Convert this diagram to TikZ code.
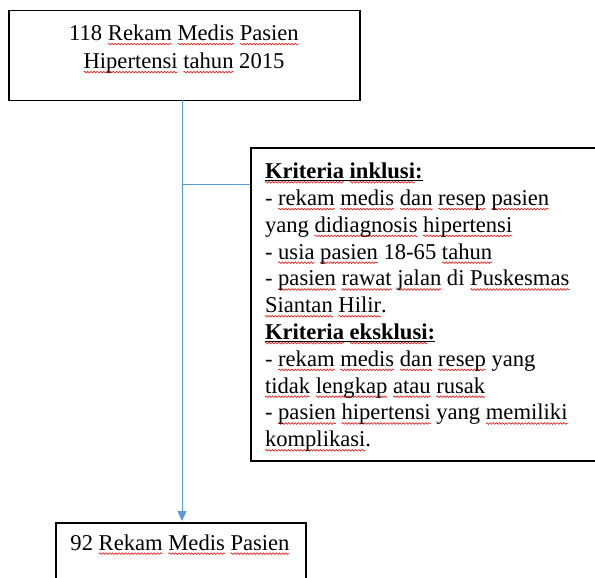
\documentclass[tikz,border=0pt]{standalone}
\usepackage{fontspec}
\setmainfont{Liberation Serif}
\usetikzlibrary{arrows.meta,decorations.pathmorphing}
\definecolor{linkblue}{RGB}{91,155,213}
\definecolor{spellred}{RGB}{225,40,40}
\newsavebox\sqbox
\newlength\sqlen
\newcommand\sq[1]{\sbox\sqbox{#1}\setlength\sqlen{\wd\sqbox}%
  \tikz[overlay,baseline=0pt]\draw[spellred,line width=0.7pt,decorate,decoration={snake,amplitude=0.8pt,segment length=3.2pt}] (0pt,-3.6pt) -- (\sqlen,-3.6pt);%
  \usebox\sqbox}
\newcommand\hd[1]{\textbf{\underline{#1}}}
\tikzset{
  box/.style={draw=black, line width=1.5pt, rectangle, inner sep=0pt},
  txt/.style={inner sep=0pt, outer sep=0pt, font=\fontsize{22.6pt}{26.8pt}\selectfont},
  arr/.style={draw=linkblue, line width=0.8pt, -{Triangle[width=9pt,length=10pt]}},
  link/.style={draw=linkblue, line width=0.8pt}
}
\begin{document}
\begin{tikzpicture}[x=1pt,y=-1pt]
\useasboundingbox (0,0) rectangle (595,578);
\clip (0,0) rectangle (595,578);
% top box
\node[box, minimum width=351pt, minimum height=90pt, anchor=north west] (top) at (8,10) {};
\node[txt, anchor=base] (t1) at (184,40.5) {118 \sq{Rekam} \sq{Medis} \sq{Pasien}};
\node[txt, anchor=base] (t2) at (184,68.5) {\sq{Hipertensi} \sq{tahun} 2015};
% criteria box
\node[box, minimum width=346pt, minimum height=313pt, anchor=north west] (crit) at (250,147) {};
\node[txt, anchor=north west, align=left] (ct) at (265,163) {%
\hd{\sq{Kriteria} \sq{inklusi}:}\\
- \sq{rekam} \sq{medis} \sq{dan} \sq{resep} \sq{pasien}\\
yang \sq{didiagnosis} \sq{hipertensi}\\
- \sq{usia} \sq{pasien} 18-65 \sq{tahun}\\
- \sq{pasien} \sq{rawat} \sq{jalan} di \sq{Puskesmas}\\
\sq{Siantan} \sq{Hilir}.\\
\hd{\sq{Kriteria} \sq{eksklusi}:}\\
- \sq{rekam} \sq{medis} \sq{dan} \sq{resep} yang\\
\sq{tidak} \sq{lengkap} \sq{atau} \sq{rusak}\\
- \sq{pasien} \sq{hipertensi} yang \sq{memiliki}\\
\sq{komplikasi}.};
% bottom box
\node[box, minimum width=250pt, minimum height=90pt, anchor=north west] (bot) at (55,522) {};
\node[txt, anchor=base] (b1) at (180,550) {92 \sq{Rekam} \sq{Medis} \sq{Pasien}};
% connectors
\coordinate (src) at (182,100);
\coordinate (dst) at (182,521);
\coordinate (j) at (182,184);
\draw[arr] (src) -- (dst);
\draw[link] (j) -- (j -| crit.west);
\end{tikzpicture}
\end{document}
